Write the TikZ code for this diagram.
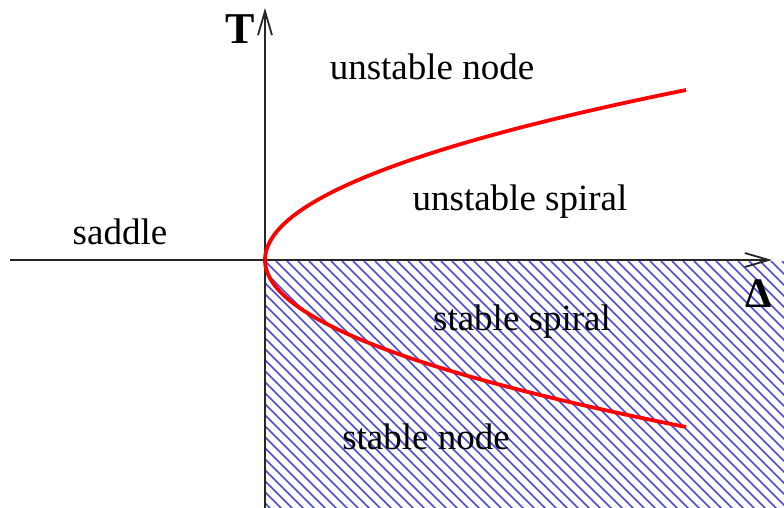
\documentclass[tikz,border=0pt]{standalone}
\usepackage{fontspec}
\setmainfont{Liberation Serif}
\usetikzlibrary{arrows.meta}
\begin{document}
\begin{tikzpicture}[x=1pt,y=-1pt,
  axis/.style={line width=2pt,draw=black!85,-{Straight Barb[length=24pt,width=14pt,line width=1.8pt]}},
  lbl/.style={font=\fontsize{37}{42}\selectfont,inner sep=0pt},
  big/.style={font=\fontsize{44}{48}\selectfont\bfseries,inner sep=0pt},
  hatchline/.style={draw={rgb,255:red,75;green,75;blue,215},line width=1.5pt},
  curve/.style={draw=red,line width=3.8pt}]
\useasboundingbox (0,0) rectangle (784,508);
% hatched quadrant
\begin{scope}
\clip (266,261) rectangle (784,508);
\foreach \c in {-260,-249,...,540}{
  \draw[hatchline] (\c+261,261) -- (\c+261+260,521);
}
\end{scope}
% axes
\coordinate (xs) at (10,260);
\coordinate (xe) at (772,260);
\coordinate (ys) at (265,508);
\coordinate (ye) at (265,8);
\draw[axis] (xs) -- (xe);
\draw[axis] (ys) -- (ye);
% parabola
\coordinate (o) at (265,260);
\draw[curve,domain=-170:0,samples=60,variable=\t]
  plot ({265+421*(\t/170)*(\t/170)},{260+\t});
\draw[curve,domain=0:167,samples=60,variable=\t]
  plot ({265+421*(\t/167)*(\t/167)},{260+\t});
% labels
\node[big] (T) at (240,29) {T};
\node[big,font=\fontsize{42}{46}\selectfont\bfseries] (D) at (759,294) {Δ};
\node[lbl] (un) at (432,67) {unstable node};
\node[lbl] (us) at (520,202) {unstable spiral};
\node[lbl] (sa) at (120,232) {saddle};
\node[lbl] (ss) at (522,322) {stable spiral};
\node[lbl] (sn) at (426,437) {stable node};
\end{tikzpicture}
\end{document}
